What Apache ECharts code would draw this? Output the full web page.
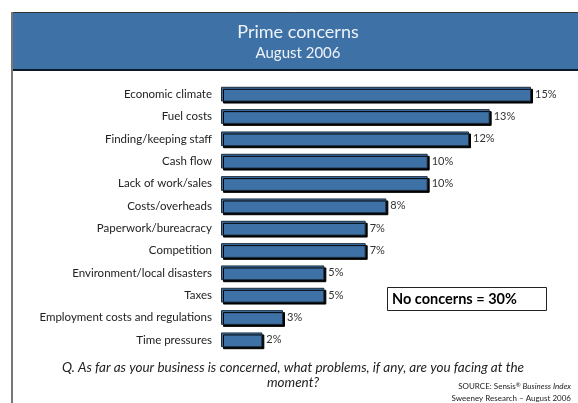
<!DOCTYPE html>
<html>
<head>
<meta charset="utf-8">
<script src="https://cdn.jsdelivr.net/npm/echarts@6/dist/echarts.min.js"></script>
<style>
html,body{margin:0;padding:0;background:#fff;}
#main{width:578px;height:403px;}
</style>
</head>
<body>
<div id="main"></div>
<script>
const categories = [
  'Economic climate',
  'Fuel costs',
  'Finding/keeping staff',
  'Cash flow',
  'Lack of work/sales',
  'Costs/overheads',
  'Paperwork/bureacracy',
  'Competition',
  'Environment/local disasters',
  'Taxes',
  'Employment costs and regulations',
  'Time pressures'
];
const values = [15, 13, 12, 10, 10, 8, 7, 7, 5, 5, 3, 2];
const titleText = 'Prime concerns';
const subtitleText = 'August 2006';
const noteText = 'No concerns = 30%';

const FONT = 'Lato, "Open Sans", sans-serif';
const chart = echarts.init(document.getElementById('main'), null, {renderer: 'canvas'});
chart.setOption({
  animation: false,
  backgroundColor: '#ffffff',
  grid: {left: 221, right: 47, top: 83, bottom: 52, containLabel: false},
  xAxis: {
    type: 'value', min: 0, max: 15, show: false
  },
  yAxis: {
    type: 'category',
    data: categories,
    inverse: true,
    axisLine: {show: false},
    axisTick: {show: false},
    splitLine: {show: false},
    axisLabel: {margin: 9, color: '#222', fontSize: 11.5, fontFamily: FONT}
  },
  series: [{
    type: 'bar',
    data: values,
    barWidth: '66%',
    itemStyle: {
      color: '#3E72A7',
      borderColor: '#1c2b3b',
      borderWidth: 1,
      shadowColor: '#000',
      shadowBlur: 0,
      shadowOffsetX: 2,
      shadowOffsetY: 2
    },
    label: {
      show: true,
      position: 'right',
      distance: 4,
      formatter: '{c}%',
      color: '#333',
      fontSize: 11,
      fontFamily: FONT
    }
  }],
  graphic: [
    {type: 'rect', shape: {x: 12, y: 12, width: 580, height: 58}, style: {fill: '#3E72A7'}, z: 1},
    {type: 'line', shape: {x1: 12, y1: 12.5, x2: 590, y2: 12.5}, style: {stroke: '#333', lineWidth: 1}, z: 2},
    {type: 'line', shape: {x1: 12, y1: 70, x2: 590, y2: 70}, style: {stroke: '#0b1826', lineWidth: 2}, z: 2},
    {type: 'line', shape: {x1: 12, y1: 12, x2: 12, y2: 410}, style: {stroke: '#777', lineWidth: 2}, z: 2},
    {type: 'text', x: 298, y: 32, style: {text: titleText, fill: '#eef2f7', font: '18px ' + FONT, textAlign: 'center', textVerticalAlign: 'middle'}, z: 3},
    {type: 'text', x: 298, y: 53, style: {text: subtitleText, fill: '#eef2f7', font: '15px ' + FONT, textAlign: 'center', textVerticalAlign: 'middle'}, z: 3},
    {type: 'rect', shape: {x: 387.5, y: 287.5, width: 159, height: 23}, style: {fill: '#fff', stroke: '#222', lineWidth: 1}, z: 3},
    {type: 'text', x: 392, y: 299, style: {text: noteText, fill: '#000', font: 'bold 14.5px ' + FONT, textAlign: 'left', textVerticalAlign: 'middle'}, z: 4},
    {type: 'text', x: 293, y: 368, style: {text: 'Q. As far as your business is concerned, what problems, if any, are you facing at the', fill: '#222', font: 'italic 13.5px ' + FONT, textAlign: 'center', textVerticalAlign: 'middle'}, z: 3},
    {type: 'text', x: 293, y: 383, style: {text: 'moment?', fill: '#222', font: 'italic 13.5px ' + FONT, textAlign: 'center', textVerticalAlign: 'middle'}, z: 3},
    {type: 'text', x: 571, y: 386, style: {rich: {n: {font: '8px ' + FONT, fill: '#222'}, i: {font: 'italic 8px ' + FONT, fill: '#222'}, s: {font: '6px ' + FONT, fill: '#222', verticalAlign: 'top'}}, text: '{n|SOURCE: Sensis}{s|®}{i| Business Index}', textAlign: 'right', textVerticalAlign: 'middle'}, z: 3},
    {type: 'text', x: 571, y: 398, style: {text: 'Sweeney Research – August 2006', fill: '#222', font: '8px ' + FONT, textAlign: 'right', textVerticalAlign: 'middle'}, z: 3}
  ]
});
</script>
</body>
</html>
